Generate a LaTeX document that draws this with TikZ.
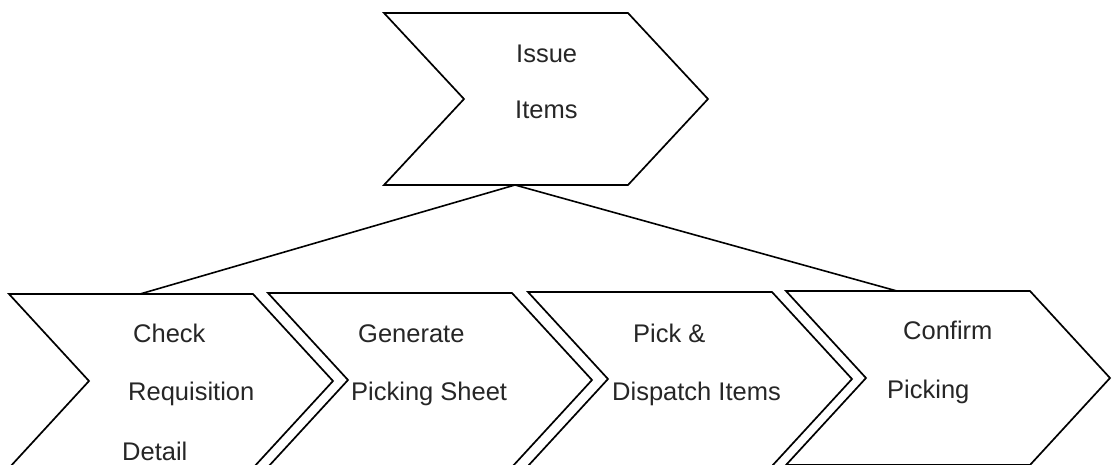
\documentclass[tikz,border=0pt]{standalone}
\usepackage{fontspec}
\setmainfont{Liberation Sans}
\begin{document}
\begin{tikzpicture}[x=1pt,y=-1pt,
  chevron/.style={draw=black,line width=1.7pt,line join=miter,fill=white},
  link/.style={draw=black,line width=1.6pt},
  lbl/.style={anchor=base west,inner sep=0pt,text=black!85,font=\fontsize{25.5}{30}\selectfont}]
\useasboundingbox[fill=white] (0,0) rectangle (1112,464);
% chevron: top-left corner, half height, name
\newcommand{\chevshape}[4]{%
  \draw[chevron] (#1,#2) -- ++(244,0) -- ++(80,#3) -- ++(-80,#3) -- ++(-244,0) -- ++(80,-#3) -- cycle;
  \coordinate (#4) at (#1,#2);}
% top step
\chevshape{384}{13}{86}{issue}
\coordinate (issueBase) at (515,185);
% lower steps (their lower edges run past the page)
\chevshape{9}{294}{87}{check}
\chevshape{268}{293}{87}{gen}
\chevshape{528}{292}{87}{pick}
\chevshape{786}{291}{87}{confirm}
\coordinate (checkTop) at (140,294);
\coordinate (confirmTop) at (897,291);
% links
\draw[link] (issueBase) -- (checkTop);
\draw[link] (issueBase) -- (confirmTop);
% labels
\node[lbl] (t1) at (516,62) {Issue};
\node[lbl] (t2) at (515,118) {Items};
\node[lbl] (c1) at (133,342) {Check};
\node[lbl] (c2) at (128,400) {Requisition};
\node[lbl] (c3) at (122,460) {Detail};
\node[lbl] (g1) at (358,342) {Generate};
\node[lbl] (g2) at (351,400) {Picking Sheet};
\node[lbl] (p1) at (633,342) {Pick \&};
\node[lbl] (p2) at (612,400) {Dispatch Items};
\node[lbl] (f1) at (903,339) {Confirm};
\node[lbl] (f2) at (887,398) {Picking};
\end{tikzpicture}
\end{document}
